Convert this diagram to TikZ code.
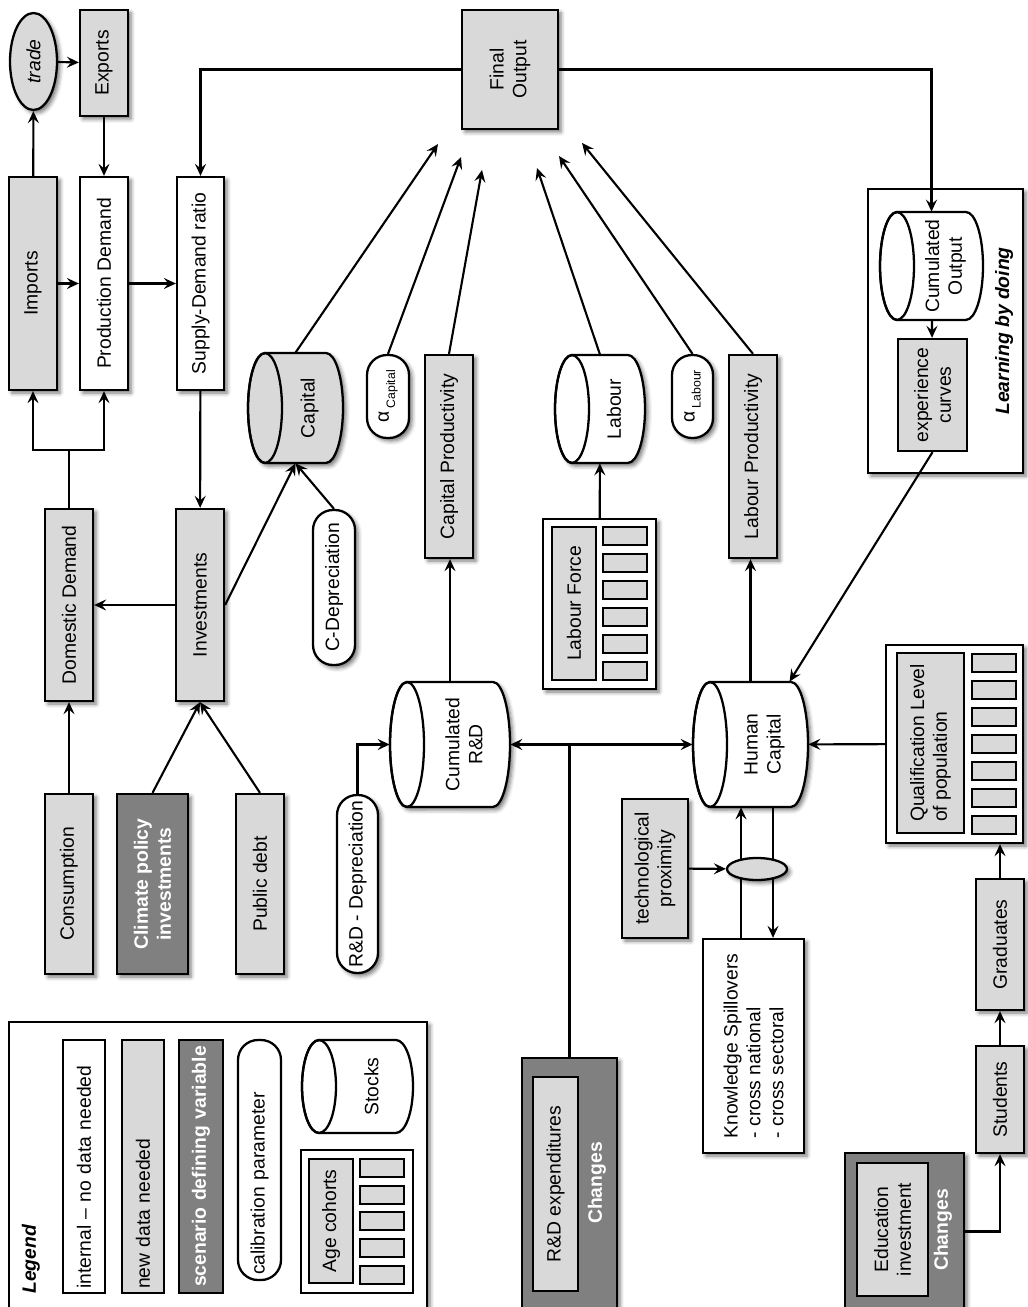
\documentclass[tikz,border=0pt]{standalone}
\usepackage{fontspec}
\setmainfont{Liberation Sans}
\usetikzlibrary{arrows.meta, positioning, shapes.geometric, shadows.blur, calc}

\definecolor{dataGray}{HTML}{D9D9D9}
\definecolor{scenGray}{HTML}{808080}
\newcommand{\diagfont}{\fontsize{11}{13}\selectfont}

\tikzset{
    sh/.style={blur shadow={shadow xshift=0.06cm, shadow yshift=-0.06cm, shadow blur radius=0.08cm, shadow opacity=55}},
    sz/.style 2 args={minimum height=#1*0.02cm, minimum width=#2*0.02cm},
    varBox/.style={rectangle, draw=black, line width=1.3pt, rotate=90, inner sep=2pt, font=\diagfont, align=center, sh},
    intBox/.style={varBox, fill=white},
    dataBox/.style={varBox, fill=dataGray},
    scenBox/.style={varBox, fill=scenGray, text=white, font=\diagfont\bfseries},
    calibBox/.style={varBox, fill=white, rounded corners=0.4cm},
    frameBox/.style={varBox, fill=white},
    cohortBox/.style={rectangle, draw=black, line width=1.3pt, fill=dataGray, rotate=90, inner sep=0pt},
    changesLbl/.style={rotate=90, text=white, font=\diagfont\bfseries, inner sep=0pt},
    stockLine/.style={draw=black, line width=1.3pt},
    flow/.style={line width=1.2pt, -{Stealth[length=2.4mm, width=2.2mm, inset=0.9mm]}},
    link/.style={line width=1.2pt}
}

% stock drum: name, centre x, centre y, width, height, fill, text
\newcommand{\stockDrum}[7]{%
    \filldraw[stockLine, fill=#6, sh] (#2-#4/2+17,#3-#5/2) -- (#2+#4/2-17,#3-#5/2)
        arc[start angle=90, end angle=-90, x radius=0.34cm, y radius=#5*0.01cm]
        -- (#2-#4/2+17,#3+#5/2)
        arc[start angle=270, end angle=90, x radius=0.34cm, y radius=#5*0.01cm] -- cycle;
    \draw[stockLine] (#2-#4/2+17,#3) ellipse[x radius=0.34cm, y radius=#5*0.01cm];
    \node[rotate=90, sz={#4}{#5}, inner sep=0pt] (#1) at (#2,#3) {};
    \node[rotate=90, font=\diagfont, align=center, inner sep=0pt] (#1Txt) at (#2+14,#3) {#7};
}

\begin{document}
\begin{tikzpicture}[x=0.02cm, y=-0.02cm]
    \useasboundingbox (0,0) rectangle (1027,1307);

    % Trade and demand
    \node[dataBox, ellipse, inner sep=0pt, sz={47}{97}, font=\diagfont\itshape] (trade) at (33.5,61.5) {trade};
    \node[dataBox, sz={48}{106}] (exports) at (104,63) {Exports};
    \node[dataBox, sz={48}{213}] (imports) at (33,283.5) {Imports};
    \node[intBox, sz={48}{213}] (prodDemand) at (104,283.5) {Production Demand};
    \node[intBox, sz={47}{213}] (sdRatio) at (200.5,283.5) {Supply-Demand ratio};
    \node[dataBox, sz={96}{119}] (finalOut) at (510,69.5) {Final\\Output};
    \node[dataBox, sz={48}{192}] (domDemand) at (69,605) {Domestic Demand};
    \node[dataBox, sz={48}{192}] (invest) at (200,605) {Investments};
    \node[dataBox, sz={48}{180}] (consumption) at (69,884) {Consumption};
    \node[scenBox, sz={71}{180}] (climate) at (152.5,884) {Climate policy\\investments};
    \node[dataBox, sz={48}{180}] (pubDebt) at (260,884) {Public debt};

    % Production factors
    \stockDrum{capital}{295.5}{408}{95}{110}{dataGray}{Capital}
    \node[calibBox, sz={42}{155}] (cDepr) at (334,587.5) {C-Depreciation};
    \node[calibBox, sz={42}{83}] (alphaCap) at (388,396.5) {α\kern2pt\raisebox{-3.5pt}{\fontsize{7}{8}\selectfont Capital}};
    \node[dataBox, sz={48}{203}] (capProd) at (449,456.5) {Capital Productivity};
    \stockDrum{labour}{600}{409}{90}{108}{white}{Labour}
    \node[calibBox, sz={41}{83}] (alphaLab) at (692.5,396.5) {α\kern2pt\raisebox{-3.5pt}{\fontsize{7}{8}\selectfont Labour}};
    \node[dataBox, sz={48}{203}] (labProd) at (753,456.5) {Labour Productivity};

    % Labour force cohorts
    \node[frameBox, sz={113}{170}] (lfGroup) at (599.5,604) {};
    \begin{scope}[sh/.style={}]
        \node[dataBox, sz={44}{153}] (lfLabel) at (574,603.5) {Labour Force};
        \foreach \cy [count=\i] in {536,563,...,671}
            \node[cohortBox, sz={44}{18}] (lfCoh\i) at (625,\cy) {};
    \end{scope}

    % Learning by doing
    \node[frameBox, sz={155}{284}] (lbdBox) at (945.5,331) {};
    \node[rotate=90, font=\diagfont\bfseries\itshape, inner sep=0pt] (lbdText) at (1004,331) {Learning by doing};
    \begin{scope}[sh/.style={}]
        \stockDrum{cumOut}{931.5}{266}{103}{108}{white}{Cumulated\\Output}
        \node[dataBox, sz={69}{112}] (expCurves) at (932.5,395) {experience\\curves};
    \end{scope}

    % R&D and human capital
    \stockDrum{cumRD}{450}{744.5}{120}{125}{white}{Cumulated\\R\&D}
    \node[calibBox, sz={41}{178}] (rdDepr) at (357.5,884) {R\&D - Depreciation};
    \node[scenBox, sz={95}{257}] (rdExp) at (569.5,1186.5) {};
    \begin{scope}[sh/.style={}]
        \node[dataBox, sz={45}{214}] (rdExpIn) at (555.5,1184) {R\&D expenditures};
    \end{scope}
    \node[changesLbl] (rdChanges) at (597,1183) {Changes};
    \stockDrum{humCap}{750.5}{744.5}{115}{125}{white}{Human\\Capital}
    \node[dataBox, sz={66}{139}] (techProx) at (655,868.5) {technological\\proximity};
    \node[intBox, sz={101}{214}, align=left] (knowSpill) at (753.5,1046) {Knowledge Spillovers\\- cross national\\- cross sectoral};

    % Education
    \node[frameBox, sz={137}{198}] (qualGrp) at (954.5,744) {};
    \begin{scope}[sh/.style={}]
        \node[dataBox, sz={67}{180}, align=left] (qualIn) at (930.5,743) {Qualification Level\\of population};
        \foreach \cy [count=\i] in {663,690,...,825}
            \node[cohortBox, sz={44}{18}] (qualCoh\i) at (994,\cy) {};
    \end{scope}
    \node[dataBox, sz={48}{131}] (graduates) at (1000,944.5) {Graduates};
    \node[dataBox, sz={48}{107}] (students) at (1000,1099.5) {Students};
    \node[scenBox, sz={119}{157}] (eduGrp) at (904.5,1231.5) {};
    \begin{scope}[sh/.style={}]
        \node[dataBox, sz={71}{133}] (eduIn) at (892.5,1229.5) {Education\\investment};
    \end{scope}
    \node[changesLbl] (eduChanges) at (943,1230) {Changes};

    % Legend
    \node[frameBox, sz={418}{293}] (legendBox) at (218,1168.5) {};
    \node[rotate=90, anchor=west, inner sep=0pt, font=\diagfont\bfseries\itshape] (legendTitle) at (31,1294) {Legend};
    \begin{scope}[sh/.style={}]
        \node[intBox, sz={42}{253}, text width=4.9cm, align=left] (legInt) at (84,1166.5) {internal -- no data needed};
        \node[dataBox, sz={42}{253}, text width=4.9cm, align=left] (legNew) at (143,1166.5) {new data needed};
        \node[scenBox, sz={44}{253}, text width=4.9cm, align=center] (legScen) at (201,1166.5) {scenario defining variable};
        \node[calibBox, sz={43}{240}, text width=4.6cm, align=left] (legCalib) at (259.5,1160) {calibration parameter};
        \stockDrum{legStock}{357.5}{1086.5}{111}{93}{white}{Stocks}
        \node[frameBox, sz={112}{143}] (ageGrp) at (357,1221.5) {};
        \node[dataBox, sz={44}{124}] (ageIn) at (331,1221) {Age cohorts};
        \foreach \cy [count=\i] in {1168,1195,1221,1248,1275}
            \node[cohortBox, sz={44}{18}] (ageCoh\i) at (382,\cy) {};
    \end{scope}

    % Free ends and junctions
    \coordinate (foIn1) at (438,144);
    \coordinate (foIn2) at (461,157);
    \coordinate (foIn3) at (482,170);
    \coordinate (foIn4) at (537,168);
    \coordinate (foIn5) at (559,156);
    \coordinate (foIn6) at (582,143);
    \coordinate (ddSplit) at (69,450);
    \coordinate (rdJoin) at (569.5,744.5);
    \coordinate (spL) at (741,869);
    \coordinate (spR) at (773,869);

    % Spillover lines (under the mixing node)
    \draw[flow] (knowSpill.east -| spL) -- (humCap.west -| spL);
    \draw[flow] (humCap.west -| spR) -- (knowSpill.east -| spR);
    \node[dataBox, ellipse, inner sep=0pt, sz={60}{22}] (spill) at (757,869) {};
    \draw[flow] (techProx) -- (spill);

    % Connectors
    \draw[flow] (imports) -- (trade);
    \draw[flow] (trade) -- (exports);
    \draw[flow] (exports) -- (prodDemand);
    \draw[flow] (imports) -- (prodDemand);
    \draw[flow] (prodDemand) -- (sdRatio);
    \draw[flow] (finalOut.north) -| (sdRatio.east);
    \draw[flow] (finalOut.south) -| (cumOut.east);
    \draw[flow] (sdRatio) -- (invest);
    \draw[link] (domDemand.east) -- (ddSplit);
    \draw[flow] (ddSplit) -| (imports.west);
    \draw[flow] (ddSplit) -| (prodDemand.west);
    \draw[flow] (invest) -- (domDemand);
    \draw[flow] (invest.south) -- (capital.west);
    \draw[flow] (cDepr.east) -- (capital.west);
    \draw[flow] (consumption) -- (domDemand);
    \draw[flow] (climate.east) -- (invest.west);
    \draw[flow] (pubDebt.east) -- (invest.west);
    \foreach \src/\tip in {capital/foIn1, alphaCap/foIn2, capProd/foIn3, labour/foIn4, alphaLab/foIn5, labProd/foIn6}
        \draw[flow] (\src.east) -- (\tip);
    \draw[flow] (lfGroup) -- (labour);
    \draw[flow] (cumOut) -- (expCurves);
    \draw[flow] (expCurves.west) -- (humCap);
    \draw[flow] (cumRD.east) -- (cumRD.east |- capProd.west);
    \draw[flow] (rdDepr.east) |- (cumRD.north);
    \draw[link] (rdExp.east) -- (rdJoin);
    \draw[flow] (rdJoin) -- (cumRD.south);
    \draw[flow] (rdJoin) -- (humCap.north);
    \draw[flow] (humCap.east) -- (humCap.east |- labProd.west);
    \draw[flow] (qualGrp) -- (humCap);
    \draw[flow] (graduates.east) -- (graduates.east |- qualGrp.west);
    \draw[flow] (students) -- (graduates);
    \draw[flow] (eduGrp.south) -| (students.west);
\end{tikzpicture}
\end{document}
